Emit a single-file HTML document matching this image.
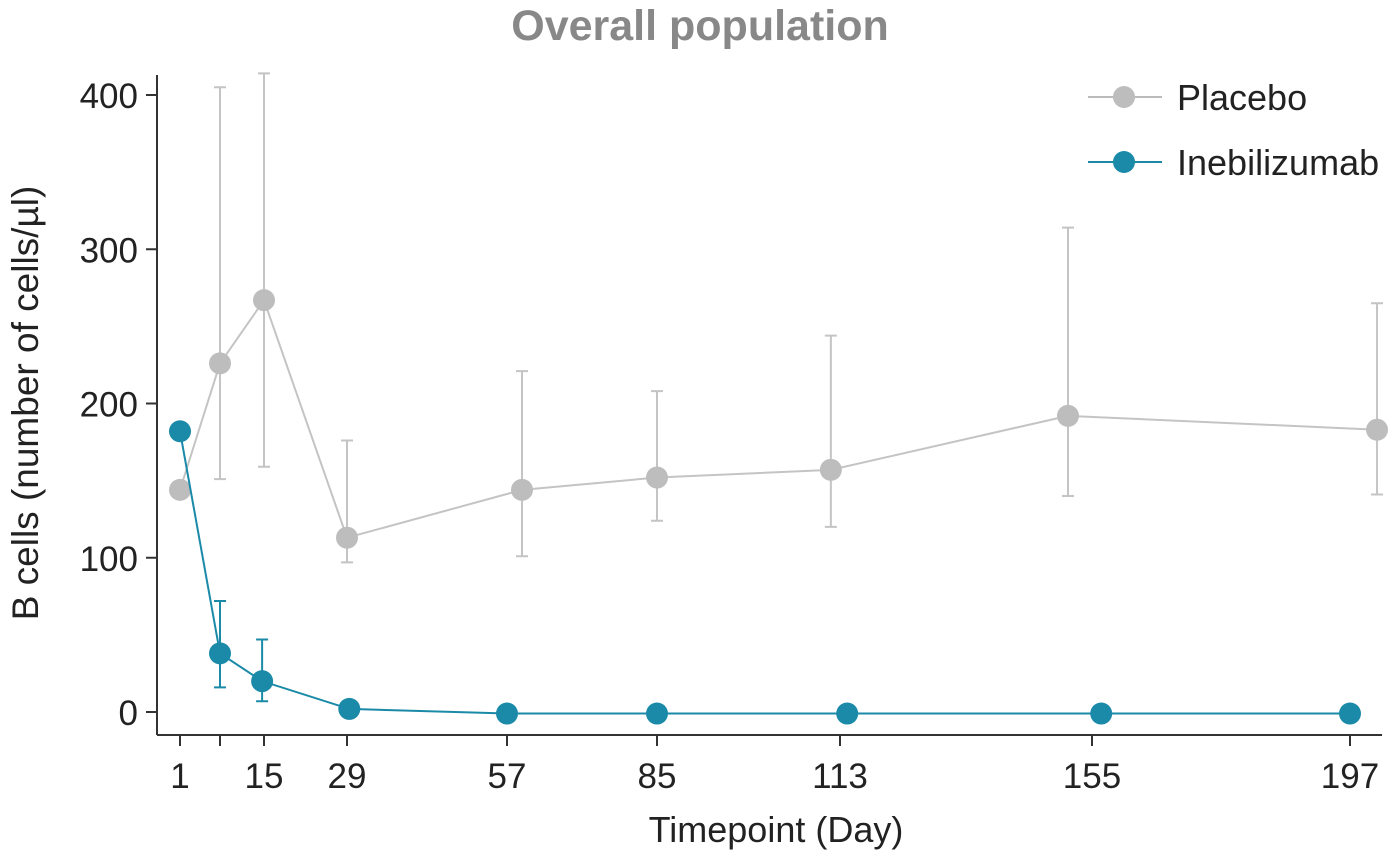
<!DOCTYPE html>
<html><head><meta charset="utf-8"><style>
body{margin:0;background:#fff;}
svg text{font-family:"Liberation Sans",Arial,sans-serif;}
</style></head><body>
<svg id="chart" width="1400" height="863">
<text x="700" y="40" text-anchor="middle" font-size="43" font-weight="bold" fill="#888">Overall population</text>
<line x1="157" y1="75" x2="157" y2="735" stroke="#333" stroke-width="2"/>
<line x1="157" y1="735" x2="1382" y2="735" stroke="#333" stroke-width="2"/>
<text transform="translate(38,403) rotate(-90)" text-anchor="middle" font-size="37" fill="#222">B cells (number of cells/µl)</text>
<text x="776" y="842" text-anchor="middle" font-size="36" fill="#222">Timepoint (Day)</text>
<g id="axes"></g><g id="series"></g>
<g>
<line x1="1088" y1="97" x2="1162" y2="97" stroke="#bbb" stroke-width="2"/>
<circle cx="1124" cy="97" r="11" fill="#bdbdbd"/>
<text x="1177" y="110" font-size="36" fill="#222">Placebo</text>
<line x1="1088" y1="162" x2="1162" y2="162" stroke="#1a8aa8" stroke-width="2"/>
<circle cx="1124" cy="162" r="11" fill="#1a8aa8"/>
<text x="1177" y="175" font-size="36" fill="#222">Inebilizumab</text>
</g>
</svg>
<script>
const xTicks=[1,8,15,29,57,85,113,155,197];
const xTickLabels=["1","","15","29","57","85","113","155","197"];
const yTicks=[0,100,200,300,400];
const placeboDays=[1,8,15,29,59.8,85,111.6,151,201.4];
const placeboMean=[144,226,267,113,144,152,157,192,183];
const placeboUpper=[null,405,414,176,221,208,244,314,265];
const placeboLower=[null,151,159,97,101,124,120,140,141];
const inebDays=[1,8,14.7,29.4,57,85,114.2,156.5,197];
const inebMean=[182,38,20,2,-1,-1,-1,-1,-1];
const inebUpper=[null,72,47,null,null,null,null,null,null];
const inebLower=[null,16,7,null,null,null,null,null,null];
const NS="http://www.w3.org/2000/svg";
const axisPx=[180,220,264,347,507,657,840,1092,1350];
function xs(d){
 let i=0;while(i<xTicks.length-2&&d>xTicks[i+1])i++;
 const d0=xTicks[i],d1=xTicks[i+1],p0=axisPx[i],p1=axisPx[i+1];
 return p0+(d-d0)*(p1-p0)/(d1-d0);
}
const ys=v=>712-v*1.5425;
function mk(tag,attrs,parent){const e=document.createElementNS(NS,tag);for(const k in attrs)e.setAttribute(k,attrs[k]);parent.appendChild(e);return e;}
const ax=document.getElementById('axes');
xTicks.forEach((t,i)=>{
 const l=mk('line',{x1:xs(t),x2:xs(t),y1:735,y2:746,stroke:'#333','stroke-width':2},ax);
 
 
 if(xTickLabels[i]){const tx=mk('text',{x:xs(t),y:788,'text-anchor':'middle','font-size':35,fill:'#222'},ax);tx.textContent=xTickLabels[i];
 
 }
});
yTicks.forEach(t=>{
 const l=mk('line',{x1:146,x2:157,y1:ys(t),y2:ys(t),stroke:'#333','stroke-width':2},ax);
 
 
 const tx=mk('text',{x:138,y:ys(t)+13,'text-anchor':'end','font-size':35,fill:'#222'},ax);tx.textContent=t;
 
 
});
const sg=document.getElementById('series');
function draw(name,days,mean,up,lo,color,ecolor){
 const g=mk('g',{},sg);
 
 
 days.forEach((d,i)=>{
  if(up[i]!=null){
   const x=xs(d);
   const eb=mk('path',{d:`M${x},${ys(up[i])}V${ys(lo[i])}M${x-6},${ys(up[i])}H${x+6}M${x-6},${ys(lo[i])}H${x+6}`,stroke:ecolor,'stroke-width':2,fill:'none'},g);
   
   
  }
 });
 const pl=mk('polyline',{points:days.map((d,i)=>xs(d)+','+ys(mean[i])).join(' '),stroke:ecolor,'stroke-width':2,fill:'none'},g);
 
 
 days.forEach((d,i)=>{
  const c=mk('circle',{cx:xs(d),cy:ys(mean[i]),r:11,fill:color},g);
  
  
 });
}
draw('placebo',placeboDays,placeboMean,placeboUpper,placeboLower,'#bdbdbd','#c4c4c4');
draw('inebilizumab',inebDays,inebMean,inebUpper,inebLower,'#1a8aa8','#1a8aa8');
</script>
</body></html>
